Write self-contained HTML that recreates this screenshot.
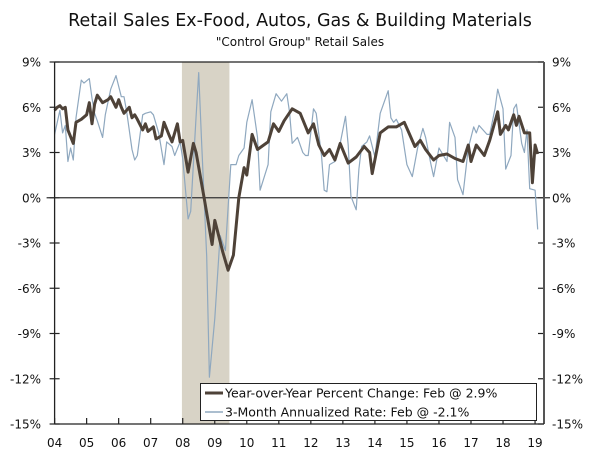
<!DOCTYPE html>
<html><head><meta charset="utf-8"><style>
body{margin:0;background:#fff}
svg{display:block;font-family:"DejaVu Sans","Liberation Sans",sans-serif}
</style></head><body>
<svg id="chart" width="600" height="458" viewBox="0 0 600 458" xmlns="http://www.w3.org/2000/svg">
<text x="300" y="26" text-anchor="middle" font-size="17.5" fill="#111">Retail Sales Ex-Food, Autos, Gas &amp; Building Materials</text>
<text x="300" y="46" text-anchor="middle" font-size="12" fill="#111">"Control Group" Retail Sales</text>
<g id="plot"></g>
</svg>
<script>
const yTicks=[9,6,3,0,-3,-6,-9,-12,-15];
const yTickLabels=["9%","6%","3%","0%","-3%","-6%","-9%","-12%","-15%"];
const xLabels=["04","05","06","07","08","09","10","11","12","13","14","15","16","17","18","19"];
const recession=[47.7,65.5];
const yoyMonths=[0,1,2,3,4,5,7,8,10,12,13,14,15,16,18,20,21,23,24,25,26,28,29,30,31,33,34,35,37,38,40,41,43,44,46,47,48,50,52,53,56,59,60,63,65,67,69,71,72,74,76,80,82,84,86,89,92,95,97,99,101,103,105,107,110,113,116,118,119,122,125,128,131,133,135,137,139,142,144,147,150,153,155,156,158,161,163,166,167,169,170,172,173,174,176,178,179,180,181];
const yoyValues=[5.8,6.0,6.1,5.9,6.0,4.5,3.6,5.0,5.2,5.5,6.3,4.9,6.2,6.8,6.3,6.5,6.7,6.0,6.5,6.0,5.6,6.0,5.3,5.5,5.2,4.5,4.9,4.4,4.7,3.9,4.1,5.0,4.1,3.7,4.9,3.7,3.8,1.7,3.6,3.0,0.0,-3.1,-1.5,-3.6,-4.8,-3.8,0.0,2.0,1.5,4.2,3.2,3.7,4.9,4.4,5.1,5.9,5.6,4.3,4.9,3.5,2.8,3.2,2.5,3.6,2.3,2.7,3.4,3.0,1.6,4.3,4.7,4.7,5.0,4.2,3.4,3.8,3.2,2.5,2.8,2.9,2.6,2.4,3.5,2.4,3.5,2.8,3.8,5.7,4.2,4.8,4.5,5.5,4.8,5.4,4.3,4.3,1.0,3.5,2.9];
const annMonths=[0,2,3,4,5,6,7,8,10,11,13,14,15,16,18,19,21,23,25,26,27,29,30,31,33,34,36,37,39,41,42,44,45,47,48,50,51,53,54,55,57,58,60,62,64,66,68,69,71,72,74,76,77,80,81,83,85,87,88,89,91,93,94,95,97,98,100,101,102,103,105,107,109,110,111,113,114,115,117,118,120,122,125,126,127,128,130,132,134,136,138,139,141,142,144,147,148,150,151,153,155,157,158,159,162,163,165,166,168,169,171,172,173,175,176,177,178,180,181];
const annValues=[4.2,5.8,4.3,4.8,2.4,3.3,2.5,5.3,7.8,7.6,7.9,6.6,5.6,5.1,4.0,5.5,7.2,8.1,6.7,6.7,5.7,3.2,2.5,2.8,5.5,5.6,5.7,5.5,4.3,2.2,3.7,3.4,2.8,3.7,2.6,-1.4,-0.9,5.4,8.3,4.0,-3.9,-11.9,-8.0,-2.5,-3.5,2.2,2.2,2.8,3.3,5.0,6.5,4.0,0.5,2.2,5.7,6.9,6.4,6.9,5.7,3.6,4.0,3.0,2.8,2.8,5.9,5.6,2.8,0.5,0.4,2.2,2.4,3.6,5.4,3.5,0.1,-0.8,1.9,3.4,3.7,4.1,2.7,5.6,7.1,5.3,5.0,5.2,4.5,2.2,1.4,3.3,4.6,4.0,2.2,1.4,3.3,2.4,5.0,4.0,1.2,0.2,3.3,4.7,4.3,4.8,4.2,4.2,5.9,7.2,5.9,1.9,2.8,5.9,6.2,3.6,3.0,4.5,0.6,0.5,-2.1];

const L=54.6,R=544,T=62,B=424,vmax=9,vmin=-15;
const yS=v=>T+(vmax-v)/(vmax-vmin)*(B-T);
const xS=m=>L+m/12*32.03;
const NS="http://www.w3.org/2000/svg";
const g=document.getElementById('plot');
function mk(tag,attrs,parent){const e=document.createElementNS(NS,tag);for(const k in attrs)e.setAttribute(k,attrs[k]);(parent||g).appendChild(e);return e;}

const sh=mk('rect',{x:xS(recession[0]),y:T,width:xS(recession[1])-xS(recession[0]),height:B-T,fill:'#d8d3c6'});



const tp=mk('line',{x1:L,x2:R,y1:T,y2:T,stroke:'#222','stroke-width':1.2});



yTicks.forEach((v,i)=>{
  const y=yS(v);
  const a=mk('line',{x1:L-5,x2:L+5,y1:y,y2:y,stroke:'#222','stroke-width':1.2});
  
  
  const b=mk('line',{x1:R-6,x2:R,y1:y,y2:y,stroke:'#222','stroke-width':1.2});
  
  
  const t1=mk('text',{x:41,y:y+4.5,'text-anchor':'end','font-size':12,fill:'#111'});
  t1.textContent=yTickLabels[i];
  
  
  const t2=mk('text',{x:552,y:y+4.5,'text-anchor':'start','font-size':12,fill:'#111'});
  t2.textContent=yTickLabels[i];
  
  
});

xLabels.forEach((lab,i)=>{
  const x=xS(i*12);
  const tk=mk('line',{x1:x,x2:x,y1:B-6,y2:B,stroke:'#222','stroke-width':1.2});
  
  
  const t=mk('text',{x:x,y:447,'text-anchor':'middle','font-size':12,fill:'#111'});
  t.textContent=lab;
  
  
});

const z=mk('line',{x1:L-8,x2:R+6,y1:yS(0),y2:yS(0),stroke:'#333','stroke-width':1.2});



function path(ms,vs){return ms.map((m,i)=>(i?'L':'M')+xS(m).toFixed(1)+','+yS(vs[i]).toFixed(1)).join('');}
const ann=mk('path',{d:path(annMonths,annValues),fill:'none',stroke:'#8fa8bf','stroke-width':1.2,'stroke-linejoin':'round'});


const yoy=mk('path',{d:path(yoyMonths,yoyValues),fill:'none',stroke:'#4e4238','stroke-width':3,'stroke-linejoin':'round'});



const la=mk('line',{x1:L,x2:L,y1:T,y2:B,stroke:'#222','stroke-width':1.3});


const ra=mk('line',{x1:R,x2:R,y1:T,y2:B,stroke:'#555','stroke-width':2});


const ba=mk('line',{x1:L,x2:R,y1:B,y2:B,stroke:'#222','stroke-width':1.3});



const lg=mk('g',{});


const lb=mk('rect',{x:200.5,y:383.5,width:336,height:37,fill:'#fff',stroke:'#222','stroke-width':1},lg);


const l1=mk('line',{x1:205,x2:223,y1:393,y2:393,stroke:'#4e4238','stroke-width':3},lg);


const t1=mk('text',{x:225,y:397.5,'font-size':12.5,fill:'#111'},lg);
t1.textContent='Year-over-Year Percent Change: Feb @ 2.9%';


const l2=mk('line',{x1:205,x2:223,y1:412,y2:412,stroke:'#8fa8bf','stroke-width':1.5},lg);


const t2=mk('text',{x:225,y:416.5,'font-size':12.5,fill:'#111'},lg);
t2.textContent='3-Month Annualized Rate: Feb @ -2.1%';


</script>
</body></html>
